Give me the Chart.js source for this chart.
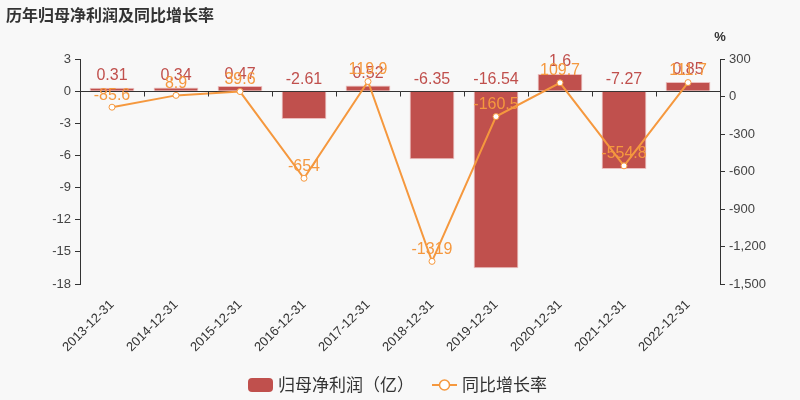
<!DOCTYPE html>
<html>
<head>
<meta charset="utf-8">
<script src="https://cdn.jsdelivr.net/npm/chart.js@4/dist/chart.umd.min.js"></script>
<style>
    body { margin: 0; background: #f8f8f8; }
    #wrap { width: 800px; height: 400px; }
</style>
</head>
<body>
<div id="wrap"><canvas id="profit-chart" width="800" height="400"></canvas></div>
<script>
// dane z wykresu
const dates = ["2013-12-31", "2014-12-31", "2015-12-31", "2016-12-31", "2017-12-31",
               "2018-12-31", "2019-12-31", "2020-12-31", "2021-12-31", "2022-12-31"];
const netProfit = [0.31, 0.34, 0.47, -2.61, 0.52, -6.35, -16.54, 1.6, -7.27, 0.85];
const growthRate = [-85.6, 8.9, 39.6, -654, 119.9, -1319, -160.5, 109.7, -554.8, 111.7];

const barColor = "rgb(192, 80, 77)";
const lineColor = "rgb(245, 152, 62)";
const fontFamily = '"Liberation Sans", "Noto Sans CJK SC", sans-serif';
const cjkFont = '"Noto Sans CJK SC", "Liberation Sans", sans-serif';

Chart.defaults.font.family = fontFamily;

// etykiety wartosci, tytul, legenda
const extrasPlugin = {
    id: "extras",
    afterDatasetsDraw(chart) {
        const ctx = chart.ctx;
        const xs = chart.scales.x;
        const ys = chart.scales.y;
        const zeroY = ys.getPixelForValue(0);
        ctx.save();
        // ticks of x axis on the zero line
        ctx.strokeStyle = "#333";
        ctx.lineWidth = 1;
        const step = xs.width / dates.length;
        for (let k = 1; k < dates.length; k++) {
            const px = Math.round(xs.left + k * step) + 0.5;
            ctx.beginPath();
            ctx.moveTo(px, Math.round(zeroY) + 0.5);
            ctx.lineTo(px, Math.round(zeroY) + 5.5);
            ctx.stroke();
        }
        ctx.font = "16px " + fontFamily;
        ctx.textAlign = "center";
        ctx.textBaseline = "bottom";
        // bar labels
        const barMeta = chart.getDatasetMeta(1);
        ctx.fillStyle = barColor;
        barMeta.data.forEach((bar, i) => {
            const y = netProfit[i] >= 0 ? bar.y : bar.base;
            ctx.fillText(String(netProfit[i]), bar.x, y - 4);
        });
        // line labels
        const lineMeta = chart.getDatasetMeta(0);
        ctx.fillStyle = lineColor;
        lineMeta.data.forEach((pt, i) => {
            ctx.fillText(String(growthRate[i]), pt.x, pt.y - 4);
        });
        ctx.restore();
    },
    afterDraw(chart) {
        const ctx = chart.ctx;
        ctx.save();
        // title
        ctx.fillStyle = "#333";
        ctx.font = "bold 16px " + cjkFont;
        ctx.textAlign = "left";
        ctx.textBaseline = "middle";
        ctx.fillText("历年归母净利润及同比增长率", 6, 15);
        // percent sign above right axis
        ctx.font = "bold 13px " + fontFamily;
        ctx.textAlign = "center";
        ctx.fillText("%", chart.scales.y1.left, 37);
        // legend
        ctx.font = "17px " + cjkFont;
        const cy = 385;
        let x = 248;
        ctx.fillStyle = barColor;
        ctx.beginPath();
        ctx.roundRect(x, cy - 7, 25, 14, 4);
        ctx.fill();
        ctx.fillStyle = "#333";
        ctx.textAlign = "left";
        ctx.fillText("归母净利润（亿）", x + 30, cy);
        x = 432;
        ctx.strokeStyle = lineColor;
        ctx.lineWidth = 2;
        ctx.beginPath();
        ctx.moveTo(x, cy);
        ctx.lineTo(x + 25, cy);
        ctx.stroke();
        ctx.beginPath();
        ctx.arc(x + 12.5, cy, 5, 0, Math.PI * 2);
        ctx.fillStyle = "#fff";
        ctx.fill();
        ctx.lineWidth = 1.5;
        ctx.stroke();
        ctx.fillStyle = "#333";
        ctx.fillText("同比增长率", x + 30, cy);
        ctx.restore();
    }
};

const ctx = document.getElementById("profit-chart").getContext("2d");
new Chart(ctx, {
    data: {
        labels: dates,
        datasets: [{
            type: "line",
            label: "同比增长率",
            data: growthRate,
            yAxisID: "y1",
            borderColor: lineColor,
            borderWidth: 2,
            pointRadius: 3,
            pointBackgroundColor: "#fff",
            pointBorderColor: lineColor,
            pointBorderWidth: 1,
            tension: 0,
            order: 0
        }, {
            type: "bar",
            label: "归母净利润（亿）",
            data: netProfit,
            yAxisID: "y",
            backgroundColor: barColor,
            borderColor: "rgba(235, 190, 190, 1)",
            borderWidth: 1,
            barPercentage: 0.7,
            categoryPercentage: 1,
            order: 1
        }]
    },
    options: {
        responsive: false,
        animation: false,
        layout: { padding: { top: 59, left: 0, right: 0, bottom: 0 } },
        plugins: {
            legend: { display: false },
            tooltip: { enabled: false }
        },
        scales: {
            x: {
                offset: true,
                grid: { display: false },
                border: { display: false },
                ticks: {
                    color: "#333",
                    font: { size: 13 },
                    maxRotation: 45,
                    minRotation: 45,
                    autoSkip: false,
                    padding: 5
                },
                afterFit: s => { s.height = 116; }
            },
            y: {
                position: "left",
                min: -18,
                max: 3,
                ticks: { stepSize: 3, color: "#444", font: { size: 13 }, padding: 4 },
                grid: {
                    color: c => c.tick && c.tick.value === 0 ? "#333" : "rgba(0,0,0,0)",
                    tickColor: "#333",
                    tickLength: 5
                },
                border: { color: "#333" },
                afterFit: s => { s.width = 80; }
            },
            y1: {
                position: "right",
                min: -1500,
                max: 300,
                ticks: {
                    stepSize: 300,
                    color: "#444",
                    font: { size: 13 },
                    padding: 4,
                    callback: v => v.toLocaleString("en-US")
                },
                grid: { drawOnChartArea: false, tickColor: "#333", tickLength: 5 },
                border: { color: "#333" },
                afterFit: s => { s.width = 80; }
            }
        }
    },
    plugins: [extrasPlugin]
});
</script>
</body>
</html>
